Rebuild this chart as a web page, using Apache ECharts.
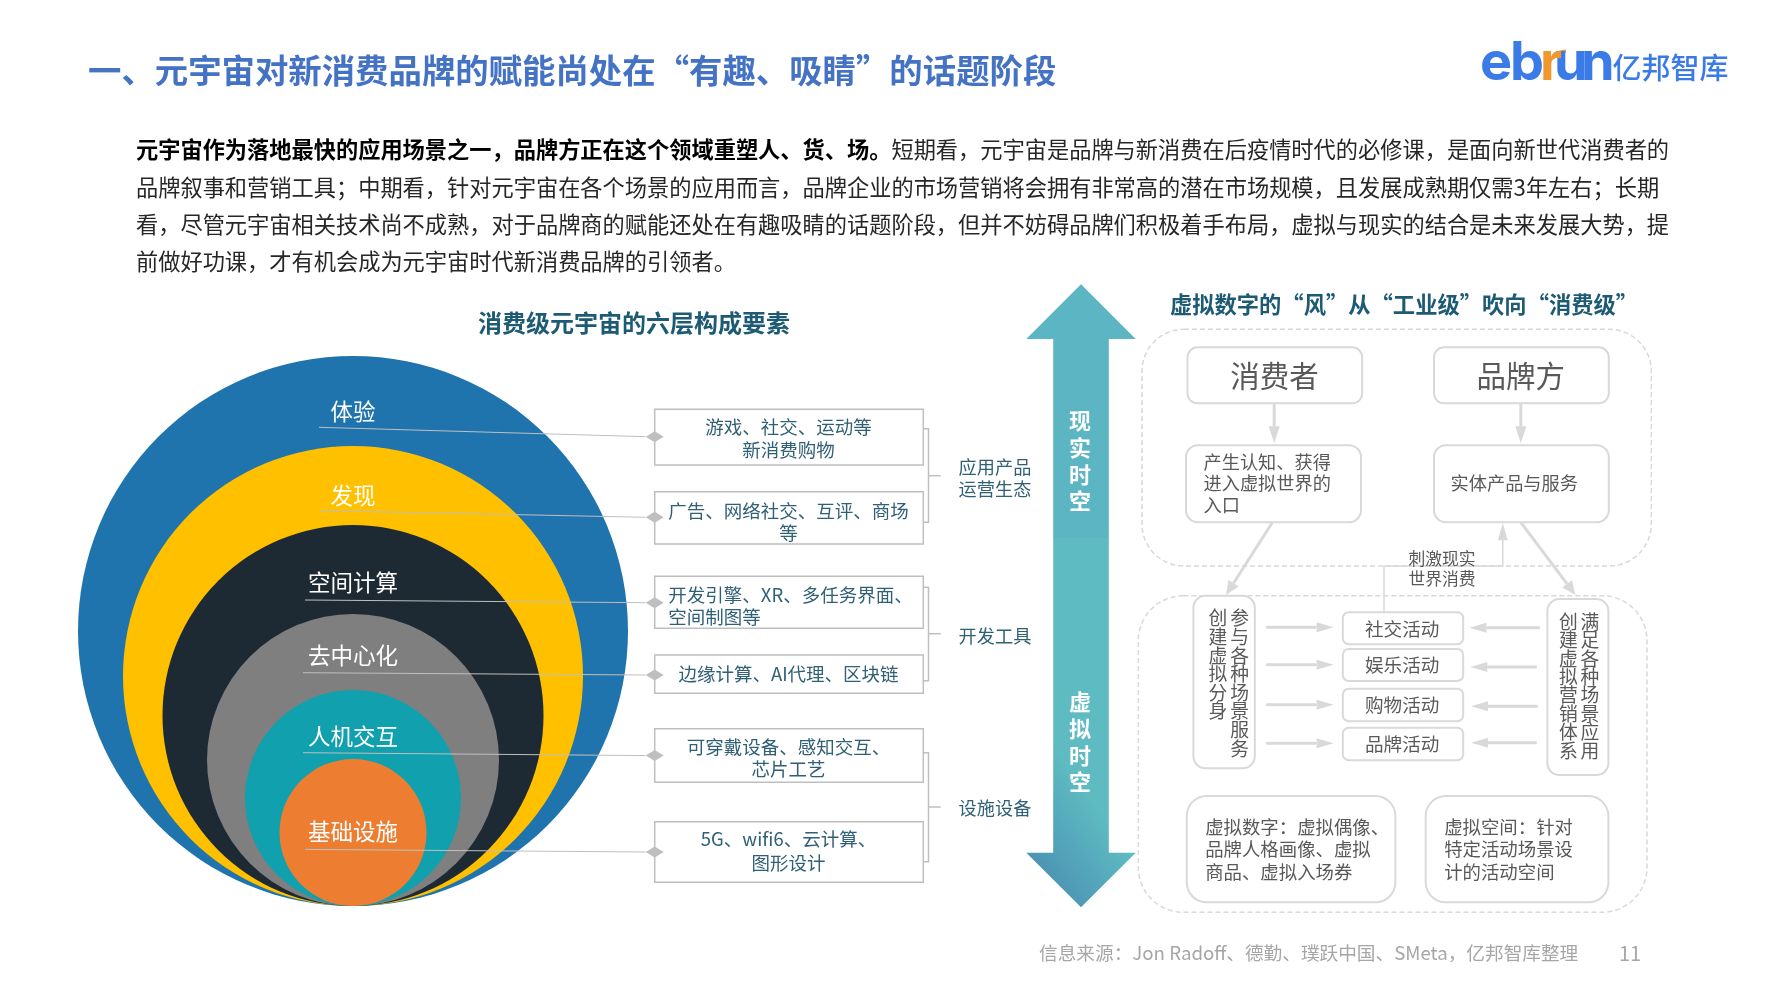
<!DOCTYPE html>
<html>
<head>
<meta charset="utf-8">
<title>消费级元宇宙的六层构成要素</title>
<style>
html,body{margin:0;padding:0;background:#fff}
#main{width:1778px;height:1000px}
</style>
<script src="https://cdn.jsdelivr.net/npm/echarts@6/dist/echarts.min.js"></script>
</head>
<body>
<div id="main"></div>
<script>
// 文字与数值
var pageTitle = '一、元宇宙对新消费品牌的赋能尚处在“有趣、吸睛”的话题阶段';
var introBold = '元宇宙作为落地最快的应用场景之一，品牌方正在这个领域重塑人、货、场。';
var introLines = [
	'短期看，元宇宙是品牌与新消费在后疫情时代的必修课，是面向新世代消费者的',
	'品牌叙事和营销工具；中期看，针对元宇宙在各个场景的应用而言，品牌企业的市场营销将会拥有非常高的潜在市场规模，且发展成熟期仅需3年左右；长期',
	'看，尽管元宇宙相关技术尚不成熟，对于品牌商的赋能还处在有趣吸睛的话题阶段，但并不妨碍品牌们积极着手布局，虚拟与现实的结合是未来发展大势，提',
	'前做好功课，才有机会成为元宇宙时代新消费品牌的引领者。'
];
var leftTitle = '消费级元宇宙的六层构成要素';
var rightTitle = '虚拟数字的“风”从“工业级”吹向“消费级”';
var layerNames = ['体验', '发现', '空间计算', '去中心化', '人机交互', '基础设施'];
var layerRadius = [275, 230, 190.5, 146, 108, 73.5];
var layerDesc = [
	['游戏、社交、运动等', '新消费购物'],
	['广告、网络社交、互评、商场', '等'],
	['开发引擎、XR、多任务界面、', '空间制图等'],
	['边缘计算、AI代理、区块链'],
	['可穿戴设备、感知交互、', '芯片工艺'],
	['5G、wifi6、云计算、', '图形设计']
];
var groupNames = [['应用产品', '运营生态'], ['开发工具'], ['设施设备']];
var realTime = '现实时空';
var virtualTime = '虚拟时空';
var topBoxNames = ['消费者', '品牌方'];
var topBoxDesc = [['产生认知、获得', '进入虚拟世界的', '入口'], ['实体产品与服务']];
var stimulus = ['刺激现实', '世界消费'];
var activities = ['社交活动', '娱乐活动', '购物活动', '品牌活动'];
var leftColumns = ['参与各种场景服务', '创建虚拟分身'];
var rightColumns = ['满足各种场景应用', '创建虚拟营销体系'];
var bottomBoxes = [
	['虚拟数字：虚拟偶像、', '品牌人格画像、虚拟', '商品、虚拟入场券'],
	['虚拟空间：针对', '特定活动场景设', '计的活动空间']
];
var sourceText = '信息来源：Jon Radoff、德勤、璞跃中国、SMeta，亿邦智库整理';
var pageNo = '11';
var logoLetters = ['e', 'b', 'r', 'u', 'n'];
var logoName = '亿邦智库';

// 样式
var FONT = '"Noto Sans CJK SC", "Noto Sans", sans-serif';
var layerColors = ['#1F74AE', '#FFC000', '#1D2A33', '#7F7F7F', '#10A0AE', '#ED7D31'];
var GREY_LINE = '#BFBFBF';
var BOX_LINE = '#D9D9D9';
var TEAL_TEXT = '#2F6075';
var GREY_TEXT = '#595959';
var HEAD_TEXT = '#1D5A73';
var INTRO_SIZE = 22.23;

var circleX = 353, circleBottom = 906;

// 版面位置
var descBoxes = [[654.7, 409.3, 923.3, 465], [654.7, 491.7, 923.3, 544], [654.7, 576.3, 923.3, 628.3],
	[654.7, 655, 923.3, 693.3], [654.7, 728.7, 923.3, 782.3], [654.7, 821.7, 923.3, 882.3]];
var descTextY = [[427.3, 450], [510.7, 532.7], [594.7, 617], [673.7], [747, 769.3], [839.3, 862.7]];
var leaders = [[319, 427.3, 436.7], [320, 510.6, 517.3], [305, 600, 602.7], [303, 672.7, 675], [303, 752.7, 755.6], [305, 849.4, 852]];
var labelY = [411, 495, 582.4, 655, 736, 831.8];
var brackets = [[428.7, 522.3, 475.7], [587.3, 680.7, 633.7], [752.7, 861.7, 807]];
var groupTextY = [[467, 489.3], [635.7], [807.7]];
var activityBoxes = [[612.3, 644.3], [649, 681], [688.7, 721.3], [727.7, 760.3]];
var activityY = [628.7, 664.7, 704.7, 743.7];

function lines(arr, x, ys, size, fill, align, weight) {
	return arr.map(function (t, i) {
		return {text: t, x: x, y: ys[i], size: size, fill: fill, align: align || 'center', weight: weight};
	});
}

// 文本
var texts = [];
texts.push({text: pageTitle, x: 88, y: 70, size: 33.4, fill: '#4472C4', align: 'left', weight: 'bold'});
texts.push({rich: '{b|' + introBold + '}{n|' + introLines[0] + '}', x: 136, y: 150, align: 'left'});
texts.push({text: introLines[1], x: 136, y: 187.5, size: INTRO_SIZE, fill: '#262626', align: 'left'});
texts.push({text: introLines[2], x: 136, y: 225, size: INTRO_SIZE, fill: '#262626', align: 'left'});
texts.push({text: introLines[3], x: 136, y: 262, size: INTRO_SIZE, fill: '#262626', align: 'left'});
texts.push({text: leftTitle, x: 634, y: 323, size: 24, fill: HEAD_TEXT, weight: 'bold'});
texts.push({text: rightTitle, x: 1404, y: 305, size: 22.3, fill: HEAD_TEXT, weight: 'bold'});
layerNames.forEach(function (n, i) {
	texts.push({text: n, x: 353, y: labelY[i], size: 22.5, fill: '#fff'});
});
layerDesc.forEach(function (d, i) {
	if (i === 2) {
		texts = texts.concat(lines(d, 668.3, descTextY[i], 18.5, TEAL_TEXT, 'left'));
	} else {
		texts = texts.concat(lines(d, 788.5, descTextY[i], 18.5, TEAL_TEXT));
	}
});
groupNames.forEach(function (g, i) {
	texts = texts.concat(lines(g, 995, groupTextY[i], 18.2, TEAL_TEXT));
});
texts.push({text: realTime.split('').join('\n'), x: 1080, y: 461, size: 22, fill: '#fff', weight: 'bold', lineHeight: 26.6});
texts.push({text: virtualTime.split('').join('\n'), x: 1080, y: 742, size: 22, fill: '#fff', weight: 'bold', lineHeight: 26.6});
texts.push({text: topBoxNames[0], x: 1274.5, y: 375.7, size: 29.5, fill: GREY_TEXT});
texts.push({text: topBoxNames[1], x: 1520.8, y: 375.7, size: 29.5, fill: GREY_TEXT});
texts = texts.concat(lines(topBoxDesc[0], 1203.5, [461.7, 483.3, 505.3], 18.2, GREY_TEXT, 'left'));
texts = texts.concat(lines(topBoxDesc[1], 1450.6, [483.3], 18.2, GREY_TEXT, 'left'));
texts = texts.concat(lines(stimulus, 1442, [558.3, 578.3], 16.8, GREY_TEXT));
activities.forEach(function (a, i) {
	texts.push({text: a, x: 1402.2, y: activityY[i], size: 18.6, fill: GREY_TEXT});
});
[[leftColumns[0], 1239.7], [leftColumns[1], 1217.8]].forEach(function (c) {
	texts.push({text: c[0].split('').join('\n'), x: c[1], y: 618.3 - 9.3, size: 18.8, fill: GREY_TEXT, lineHeight: 18.6, verticalAlign: 'top'});
});
[[rightColumns[0], 1589.9], [rightColumns[1], 1568.4]].forEach(function (c) {
	texts.push({text: c[0].split('').join('\n'), x: c[1], y: 621.7 - 9.3, size: 18.8, fill: GREY_TEXT, lineHeight: 18.4, verticalAlign: 'top'});
});
texts = texts.concat(lines(bottomBoxes[0], 1205.2, [826.7, 849.3, 872], 18.4, GREY_TEXT, 'left'));
texts = texts.concat(lines(bottomBoxes[1], 1444.2, [826.7, 849.3, 872], 18.4, GREY_TEXT, 'left'));
texts.push({text: sourceText, x: 1039, y: 953.3, size: 18.67, fill: '#A6A6A6', align: 'left'});
texts.push({text: pageNo, x: 1630, y: 953.3, size: 20, fill: '#A6A6A6'});
// logo
var logoX = [1480, 1510, 1540, 1554, 1581];
logoLetters.forEach(function (l, i) {
	texts.push({text: l, x: logoX[i], y: 64, size: 54, fill: l === 'r' ? '#F0982D' : '#3A7BE8', align: 'left', weight: 'bold', family: 'Inter, sans-serif', z: i === 2 ? 1 : 0});
});
texts.push({text: logoName, x: 1670.5, y: 68, size: 29, fill: '#3A7BE8', weight: '500'});

// 矩形框
var rects = [];
descBoxes.forEach(function (b) {
	rects.push({box: b, r: 0, stroke: GREY_LINE, lw: 1.5});
});
rects.push({box: [1142, 329.3, 1651.3, 566], r: 42, stroke: BOX_LINE, lw: 1.5, dash: [5, 3]});
rects.push({box: [1138.3, 595.7, 1647, 912.3], r: 45, stroke: BOX_LINE, lw: 1.5, dash: [5, 3]});
[[1187.5, 347.3, 1362.2, 403.3, 10], [1434, 347.3, 1608.8, 403.3, 10], [1186, 445.3, 1361, 522.3, 12], [1434, 445.3, 1608.8, 522.3, 12],
	[1193.4, 595.7, 1254.8, 768.3, 12], [1547.4, 599, 1608.4, 775, 12],
	[1186.7, 796, 1395.4, 902.3, 20], [1425.7, 796, 1608.4, 902.3, 20]].forEach(function (b) {
	rects.push({box: b.slice(0, 4), r: b[4], stroke: BOX_LINE, lw: 2});
});
activityBoxes.forEach(function (y) {
	rects.push({box: [1342.8, y[0], 1463.2, y[1]], r: 6, stroke: BOX_LINE, lw: 2});
});

// 引线、折线
var polylines = [];
leaders.forEach(function (l) {
	polylines.push({pts: [[l[0], l[1]], [645.5, l[2]]], stroke: GREY_LINE, lw: 1});
});
brackets.forEach(function (b) {
	polylines.push({pts: [[924, b[0]], [928.5, b[0]], [928.5, b[1]], [924, b[1]]], stroke: GREY_LINE, lw: 1.5});
	polylines.push({pts: [[928.5, b[2]], [940.7, b[2]]], stroke: GREY_LINE, lw: 1.5});
});
polylines.push({pts: [[1384, 612], [1384, 566], [1502.8, 566], [1502.8, 535]], stroke: BOX_LINE, lw: 1.5});
polylines.push({pts: [[1555, 54], [1560, 52], [1566, 51]], stroke: '#F0982D', lw: 3});

// 箭头 [起点x, 起点y, 终点x, 终点y, 线宽, 箭头长, 箭头半宽]
var arrows = [
	[1274.2, 403, 1274.2, 443.3, 3, 17, 5.5],
	[1520.8, 403, 1520.8, 443.3, 3, 17, 5.5],
	[1272.5, 522.3, 1226, 595, 3, 14, 6],
	[1520.8, 522.3, 1575.5, 595, 3, 14, 6],
	[1502.8, 540, 1502.8, 523.3, 1.5, 17, 5],
	[1266.2, 627.3, 1333.6, 627.3, 3, 17, 5],
	[1266.2, 664.7, 1333.6, 664.7, 3, 17, 5],
	[1266.2, 704.7, 1333.6, 704.7, 3, 17, 5],
	[1266.2, 743.3, 1333.6, 743.3, 3, 17, 5],
	[1539.8, 627.7, 1469.5, 627.7, 3, 17, 5],
	[1536.8, 667, 1470.3, 667, 3, 17, 5],
	[1537.7, 706.3, 1471, 706.3, 3, 17, 5],
	[1536.8, 742.7, 1471, 742.7, 3, 17, 5]
];

// 中间的上下大箭头
var bigArrows = [
	{pts: [[1081, 284.3], [1135.7, 339], [1108.8, 339], [1108.8, 538], [1053.2, 538], [1053.2, 339], [1026.3, 339]], fill: '#5BB5C2'},
	{pts: [[1053.2, 538], [1108.8, 538], [1108.8, 852.7], [1135.7, 852.7], [1081, 907.3], [1026.3, 852.7], [1053.2, 852.7]],
		fill: {type: 'linear', x: 0, y: 0.9, x2: 0.7, y2: 0.75, colorStops: [{offset: 0, color: '#4A8FB3'}, {offset: 1, color: '#5DBBC1'}]}}
];

var diamonds = leaders.map(function (l) { return [654.7, l[2]]; });

function toPts(api, pts) {
	return pts.map(function (p) { return api.coord(p); });
}

function layer(name, items, draw) {
	return {
		name: name,
		type: 'custom',
		coordinateSystem: 'cartesian2d',
		silent: true,
		clip: false,
		animation: false,
		data: items.map(function (d, i) { return [i]; }),
		encode: {x: -1, y: -1},
		renderItem: function (params, api) {
			return draw(items[params.dataIndex], api, params.dataIndex);
		}
	};
}

var option = {
	backgroundColor: '#fff',
	animation: false,
	grid: {left: 0, right: 0, top: 0, bottom: 0},
	xAxis: {type: 'value', min: 0, max: 1778, show: false},
	yAxis: {type: 'value', min: 0, max: 1000, inverse: true, show: false},
	series: [
		layer('六层', layerRadius, function (r, api, i) {
			var c = api.coord([circleX, circleBottom - r]);
			return {type: 'circle', shape: {cx: c[0], cy: c[1], r: api.size([r, 0])[0]}, style: {fill: layerColors[i]}};
		}),
		layer('大箭头', bigArrows, function (a, api) {
			return {type: 'polygon', shape: {points: toPts(api, a.pts)}, style: {fill: a.fill}};
		}),
		layer('线', polylines, function (l, api) {
			return {type: 'polyline', shape: {points: toPts(api, l.pts)}, style: {fill: 'none', stroke: l.stroke, lineWidth: l.lw}};
		}),
		layer('箭头', arrows, function (a, api) {
			var s = api.coord([a[0], a[1]]), e = api.coord([a[2], a[3]]);
			var dx = e[0] - s[0], dy = e[1] - s[1], len = Math.sqrt(dx * dx + dy * dy);
			var ux = dx / len, uy = dy / len;
			var bx = e[0] - ux * a[5], by = e[1] - uy * a[5];
			return {type: 'group', children: [
				{type: 'line', shape: {x1: s[0], y1: s[1], x2: bx, y2: by}, style: {stroke: BOX_LINE, lineWidth: a[4]}},
				{type: 'polygon', shape: {points: [e, [bx - uy * a[6], by + ux * a[6]], [bx + uy * a[6], by - ux * a[6]]]}, style: {fill: BOX_LINE}}
			]};
		}),
		layer('框', rects, function (b, api) {
			var p = api.coord([b.box[0], b.box[1]]), q = api.coord([b.box[2], b.box[3]]);
			return {type: 'rect', shape: {x: p[0], y: p[1], width: q[0] - p[0], height: q[1] - p[1], r: b.r},
				style: {fill: 'none', stroke: b.stroke, lineWidth: b.lw, lineDash: b.dash || null}};
		}),
		layer('菱形', diamonds, function (d, api) {
			var c = api.coord(d);
			return {type: 'polygon', shape: {points: [[c[0] - 9, c[1]], [c[0], c[1] - 5.5], [c[0] + 9, c[1]], [c[0], c[1] + 5.5]]}, style: {fill: GREY_LINE}};
		}),
		layer('文字', texts, function (t, api) {
			var p = api.coord([t.x, t.y]);
			var style = {
				x: p[0], y: p[1],
				align: t.align || 'center',
				verticalAlign: t.verticalAlign || 'middle',
				fontFamily: t.family || FONT
			};
			if (t.rich) {
				style.text = t.rich;
				style.rich = {
					b: {fontSize: INTRO_SIZE, fontWeight: 'bold', fill: '#000', fontFamily: FONT},
					n: {fontSize: INTRO_SIZE, fill: '#262626', fontFamily: FONT}
				};
			} else {
				style.text = t.text;
				style.fontSize = t.size;
				style.fontWeight = t.weight || 'normal';
				style.fill = t.fill;
				if (t.lineHeight) style.lineHeight = t.lineHeight;
			}
			return {type: 'text', z2: t.z || 0, style: style};
		})
	]
};

var myChart = echarts.init(document.getElementById('main'));
myChart.setOption(option);
</script>
</body>
</html>
